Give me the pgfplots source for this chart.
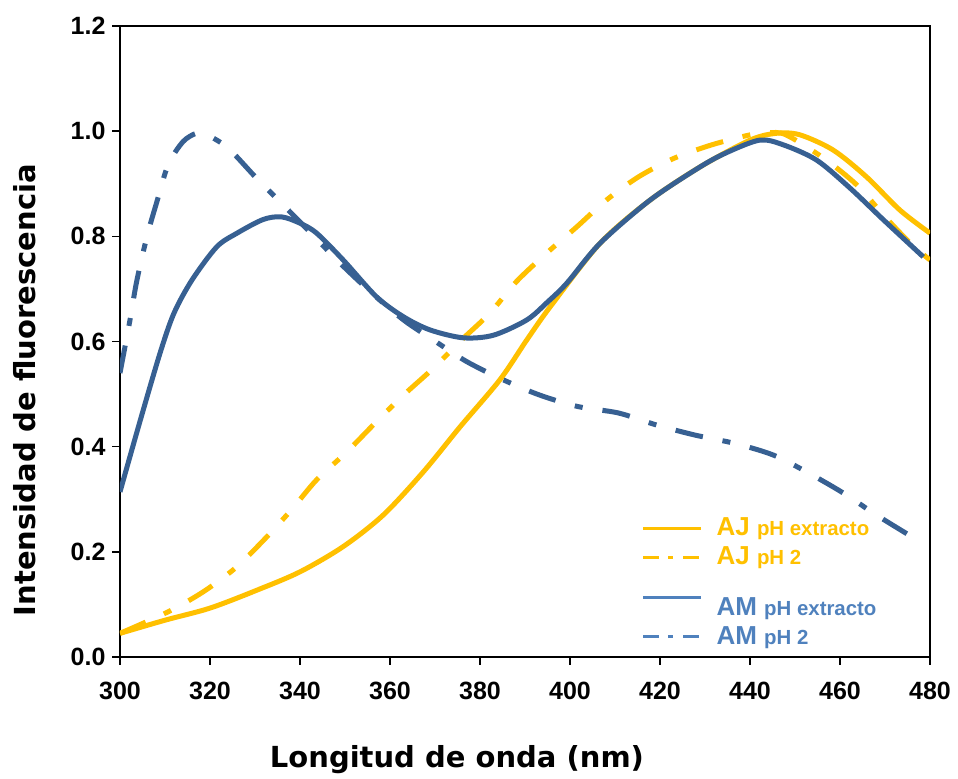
\documentclass[border=0pt]{standalone}
\usepackage{fontspec}
\setmainfont{DejaVu Sans}
\newfontfamily\legfont{Liberation Sans}
\usepackage{pgfplots}
\pgfplotsset{compat=1.18}
\definecolor{ajc}{HTML}{FFC000}
\definecolor{amc}{HTML}{376092}
\definecolor{amleg}{HTML}{4F81BD}
\tikzset{ddot/.style={dash pattern=on 14pt off 10pt on 4pt off 10pt}}
\newcommand{\legtxt}[3]{\textcolor{#1}{\fontsize{13}{14}\selectfont #2 \fontsize{10.2}{12}\selectfont #3}}
\begin{document}
\begin{tikzpicture}
\begin{axis}[
  width=405pt, height=315.5pt, scale only axis,
  xmin=300, xmax=480, ymin=0, ymax=1.2,
  xtick={300,320,340,360,380,400,420,440,460,480},
  ytick={0,0.2,0.4,0.6,0.8,1.0,1.2},
  xtick pos=bottom, ytick pos=left,
  tick align=outside, major tick length=3.75pt,
  tick style={black, line width=0.8pt},
  axis line style={black, line width=0.8pt},
  /pgf/number format/assume math mode=true,
  ticklabel style={font=\legfont\bfseries\fontsize{12.5}{14}\selectfont},
  y tick label style={/pgf/number format/.cd, fixed, fixed zerofill, precision=1},
  x tick label style={/pgf/number format/1000 sep={}, yshift=-5pt},
  xlabel={Longitud de onda (nm)},
  ylabel={Intensidad de fluorescencia},
  label style={font=\fontsize{14.5}{17}\selectfont\bfseries},
  xlabel style={at={(axis description cs:0.416,0)}, anchor=center, yshift=-51.5pt},
  ylabel style={at={(axis description cs:0,0.423)}, anchor=center, yshift=47.5pt},
  legend image code/.code={\draw[#1] (0pt,0pt) -- (29pt,0pt);},
  legend style={draw=none, fill=none, font=\legfont\bfseries, at={(axis description cs:0.636,0.234)}, anchor=north west, row sep=0pt, column sep=5pt},
  legend cell align=left,
]
\coordinate (sw) at (rel axis cs:0,0);
\coordinate (ne) at (rel axis cs:1,1);
% AJ pH extracto
\addplot[ajc, line width=2.5pt, smooth, forget plot] coordinates {
(300,0.045)(310,0.070)(320,0.093)(330.4,0.127)(340,0.162)(349.6,0.210)(358.5,0.270)(367.4,0.352)(375.6,0.438)(384.4,0.527)(390.4,0.603)(395.6,0.666)(406.7,0.787)(417.8,0.869)(428.9,0.932)(440,0.983)(445.9,0.996)(451.1,0.993)(458.5,0.964)(465.9,0.913)(473.3,0.850)(480,0.806)
};
% AJ pH 2
\addplot[ajc, line width=2.5pt, smooth, ddot, forget plot] coordinates {
(300,0.045)(310.7,0.086)(318.5,0.124)(325.6,0.169)(331.9,0.222)(338.1,0.280)(343.7,0.337)(350.4,0.390)(356.7,0.445)(363,0.498)(369.6,0.549)(375.9,0.603)(382.2,0.654)(388.1,0.714)(394.8,0.768)(401.5,0.818)(408.1,0.869)(415.2,0.913)(423,0.948)(431.5,0.974)(440,0.993)(444,0.997)(448,0.993)(456.3,0.949)(463.7,0.898)(469.7,0.840)(475.6,0.787)(480,0.755)
};
% AM pH extracto
\addplot[amc, line width=2.5pt, smooth, forget plot] coordinates {
(300,0.314)(304.4,0.447)(308.9,0.578)(312,0.654)(316,0.717)(321.5,0.780)(326,0.806)(331.8,0.832)(335.9,0.837)(340,0.825)(343.7,0.806)(349.6,0.755)(357,0.685)(363,0.647)(368.9,0.622)(376.3,0.607)(383,0.612)(390.4,0.641)(395,0.675)(399.3,0.711)(406.7,0.787)(417.8,0.869)(428.9,0.932)(435,0.960)(442.2,0.983)(447.4,0.974)(454.8,0.945)(462.2,0.892)(469.7,0.831)(478.5,0.761)
};
% AM pH 2
\addplot[amc, line width=2.5pt, smooth, ddot, forget plot] coordinates {
(300,0.54)(302.2,0.64)(303.7,0.714)(306,0.80)(308.1,0.863)(310.7,0.936)(314,0.980)(317,0.996)(319.3,0.993)(324,0.968)(330.4,0.910)(336.7,0.856)(343.7,0.795)(348.9,0.749)(355.6,0.695)(363,0.641)(369.6,0.603)(377,0.562)(385.2,0.527)(393.3,0.498)(401.9,0.476)(410.8,0.464)(419.3,0.441)(427.8,0.422)(436.7,0.406)(445.2,0.384)(453,0.350)(460.7,0.312)(468.1,0.270)(475.9,0.229)
};
\addlegendimage{ajc, line width=1.5pt}
\addlegendentry{\legtxt{ajc}{AJ}{pH extracto}}
\addlegendimage{ajc, line width=1.5pt, dash pattern=on 8pt off 4.5pt on 2.5pt off 5pt}
\addlegendentry{\legtxt{ajc}{AJ}{pH 2}}
\addlegendimage{amleg, line width=1.5pt}
\addlegendentry{\rule{0pt}{20pt}\legtxt{amleg}{AM}{pH extracto}}
\addlegendimage{amleg, line width=1.5pt, dash pattern=on 8pt off 4.5pt on 2.5pt off 5pt}
\addlegendentry{\legtxt{amleg}{AM}{pH 2}}
\end{axis}
\pgfresetboundingbox
\path[use as bounding box] ([shift={(-60pt,-60.5pt)}]sw) rectangle ([shift={(14pt,13pt)}]ne);
\end{tikzpicture}
\end{document}
